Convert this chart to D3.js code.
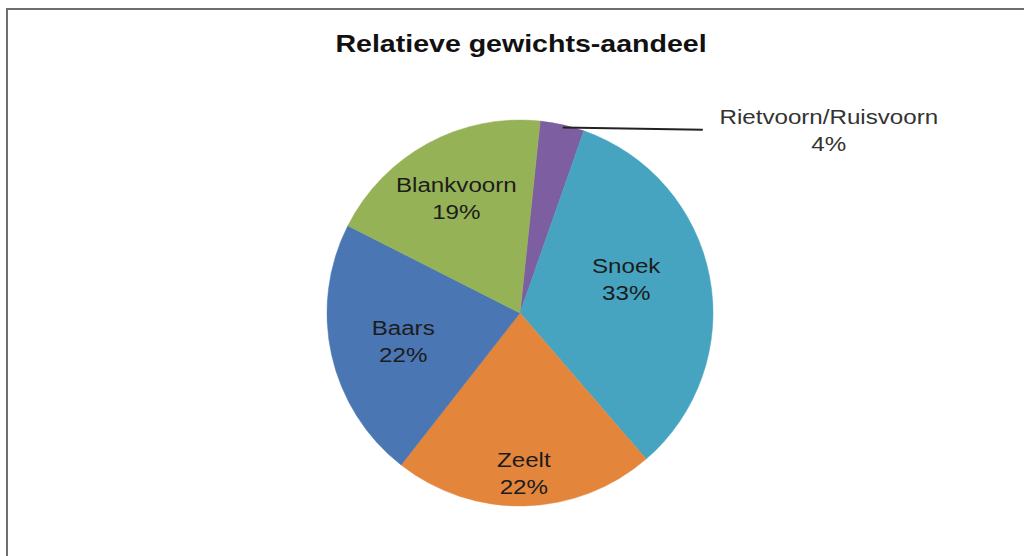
<!DOCTYPE html>
<html>
<head>
<meta charset="utf-8">
<script src="https://cdn.jsdelivr.net/npm/d3@7"></script>
<style>
  html, body { margin: 0; padding: 0; background: #fff; }
  svg { display: block; }
  text { font-family: "Liberation Sans", Arial, sans-serif; }
</style>
</head>
<body>
<svg width="1024" height="556"></svg>
<script>
const title = "Relatieve gewichts-aandeel";
const species = ["Rietvoorn/Ruisvoorn", "Snoek", "Zeelt", "Baars", "Blankvoorn"];
const shares = [3.7, 33.3, 21.9, 21.9, 19.2];
const pctLabels = ["4%", "33%", "22%", "22%", "19%"];
const colors = ["#7d5fa1", "#46a4c0", "#e4853c", "#4a76b3", "#95b256"];

// label distance from centre (fraction of radius) and a vertical nudge, Excel "best fit" look
const labelRadius = { "Snoek": 0.56, "Zeelt": 0.82, "Baars": 0.62, "Blankvoorn": 0.69 };
const labelNudge = { "Snoek": -16, "Zeelt": 0, "Baars": 0, "Blankvoorn": 0 };

const svg = d3.select("svg");
const cx = 520, cy = 313, r = 193;
const stretch = 1.15;

// frame
svg.append("rect")
  .attr("x", 7).attr("y", 9)
  .attr("width", 1030).attr("height", 560)
  .attr("fill", "#fff")
  .attr("stroke", "#6f6f6f")
  .attr("stroke-width", 2);

svg.append("text")
  .attr("transform", `translate(${cx + 1},52) scale(1.19,1)`)
  .attr("text-anchor", "middle")
  .attr("font-size", 24)
  .attr("font-weight", "bold")
  .attr("fill", "#111")
  .text(title);

const data = species.map((name, i) => ({ name, value: shares[i], pct: pctLabels[i], color: colors[i] }));

const start = 6 * Math.PI / 180;
const pie = d3.pie().sort(null).value(d => d.value)
  .startAngle(start).endAngle(start + 2 * Math.PI);
const arcs = pie(data);

const arc = d3.arc().innerRadius(0).outerRadius(r);

const g = svg.append("g").attr("transform", `translate(${cx},${cy})`);

g.selectAll("path.slice")
  .data(arcs)
  .join("path")
  .attr("class", "slice")
  .attr("d", arc)
  .attr("fill", d => d.data.color)
  .attr("stroke", d => d.data.color)
  .attr("stroke-width", 0.5);

function labelPos(d) {
  const a = (d.startAngle + d.endAngle) / 2;
  const k = labelRadius[d.data.name] * r;
  return [Math.sin(a) * k, -Math.cos(a) * k + labelNudge[d.data.name]];
}

const inside = arcs.filter(d => labelRadius[d.data.name] !== undefined);
const lab = g.selectAll("g.lab")
  .data(inside)
  .join("g")
  .attr("class", "lab")
  .attr("transform", d => { const p = labelPos(d); return `translate(${p[0]},${p[1]}) scale(${stretch},1)`; });

lab.append("text")
  .attr("text-anchor", "middle")
  .attr("y", -4)
  .attr("font-size", 21)
  .attr("fill", "#1c1c1c")
  .text(d => d.data.name);
lab.append("text")
  .attr("text-anchor", "middle")
  .attr("y", 23)
  .attr("font-size", 21)
  .attr("fill", "#1c1c1c")
  .text(d => d.data.pct);

// outside label with leader line for the small slice
const small = arcs[0];
const ma = (small.startAngle + small.endAngle) / 2;
const lx = r * 1.6, ly = -r * 0.98;
g.append("line")
  .attr("x1", Math.sin(ma) * r * 0.985 + 1)
  .attr("y1", -Math.cos(ma) * r * 0.985)
  .attr("x2", lx - 126)
  .attr("y2", ly + 6)
  .attr("stroke", "#222")
  .attr("stroke-width", 2);

const out = g.append("g").attr("transform", `translate(${lx},${ly}) scale(${stretch},1)`);
out.append("text")
  .attr("text-anchor", "middle")
  .attr("y", 0)
  .attr("font-size", 21)
  .attr("fill", "#333")
  .text(small.data.name);
out.append("text")
  .attr("text-anchor", "middle")
  .attr("y", 27)
  .attr("font-size", 21)
  .attr("fill", "#333")
  .text(small.data.pct);
</script>
</body>
</html>
